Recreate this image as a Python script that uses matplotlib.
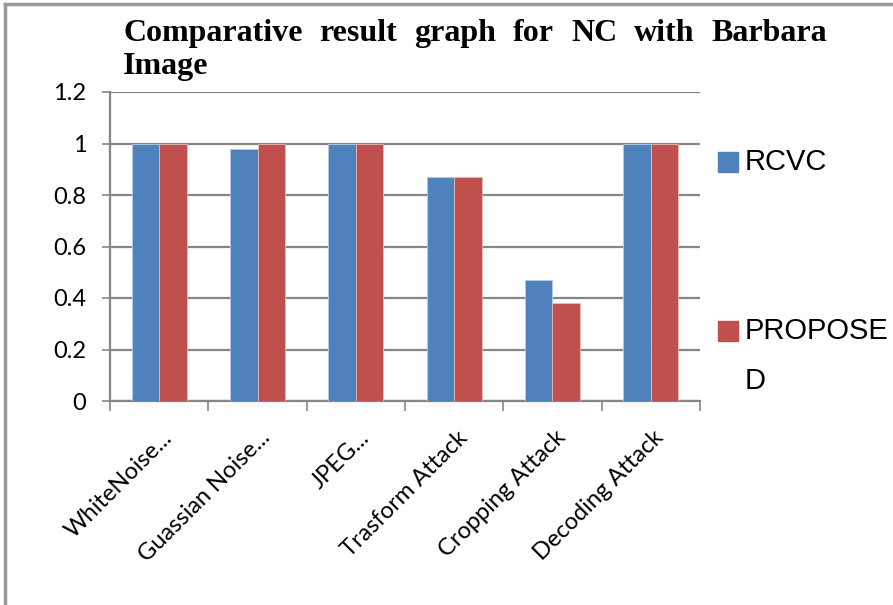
import numpy as np
import matplotlib.pyplot as plt
from matplotlib.lines import Line2D

attacks = ["WhiteNoise...", "Guassian Noise...", "JPEG...", "Trasform Attack",
           "Cropping Attack", "Decoding Attack"]
rcvc = [1.0, 0.98, 1.0, 0.87, 0.47, 1.0]
proposed = [1.0, 1.0, 1.0, 0.87, 0.38, 1.0]
yticks = [0, 0.2, 0.4, 0.6, 0.8, 1.0, 1.2]
ytick_labels = ["0", "0.2", "0.4", "0.6", "0.8", "1", "1.2"]

blue = "#4f81bd"
red = "#c0504d"
grid = "#868686"
sans = ["Liberation Sans", "DejaVu Sans"]
lato = ["Lato", "DejaVu Sans"]

fig = plt.figure(figsize=(8.93, 6.05), dpi=100)
ax = fig.add_axes([110 / 893, 1 - 401 / 605, 590 / 893, 309 / 605])

x = np.arange(len(attacks))
w = 0.28
ax.bar(x - w / 2, rcvc, w, color=blue, edgecolor="#b9cde5", linewidth=0.6, zorder=3)
ax.bar(x + w / 2, proposed, w, color=red, edgecolor="#e6b9b8", linewidth=0.6, zorder=3)

ax.set_xlim(-0.5, len(attacks) - 0.5)
ax.set_ylim(0, 1.2)
ax.set_yticks(yticks)
ax.set_yticklabels(ytick_labels, fontfamily=lato, fontsize=17)
ax.yaxis.grid(True, color=grid, linewidth=1.6, zorder=0)
ax.tick_params(axis="y", length=6, width=1.2, color=grid, pad=11)

# category boundaries get the tick marks, labels sit in between
ax.set_xticks(np.arange(-0.5, len(attacks)), minor=True)
ax.set_xticks(x)
ax.set_xticklabels([])
ax.tick_params(axis="x", which="major", length=0)
ax.tick_params(axis="x", which="minor", length=7, width=1.2, color=grid)
for i, name in enumerate(attacks):
    ax.annotate(name, xy=(i, 0), xycoords=("data", "axes fraction"),
                xytext=(7, -24), textcoords="offset points",
                rotation=45, rotation_mode="anchor", ha="right", va="center",
                fontsize=17, fontfamily=lato)

for s in ["top", "right"]:
    ax.spines[s].set_visible(False)
for s in ["left", "bottom"]:
    ax.spines[s].set_color(grid)
    ax.spines[s].set_linewidth(1.6)

# legend drawn by hand to keep the wrapped label
fig.patches.append(plt.Rectangle((718 / 893, 1 - 172 / 605), 20 / 893, 20 / 605,
                                 transform=fig.transFigure, color=blue))
fig.patches.append(plt.Rectangle((718 / 893, 1 - 341 / 605), 20 / 893, 20 / 605,
                                 transform=fig.transFigure, color=red))
fig.text(745 / 893, 1 - 162 / 605, "RCVC", fontsize=21, fontfamily=sans, va="center")
fig.text(745 / 893, 1 - 331 / 605, "PROPOSE", fontsize=21, fontfamily=sans, va="center")
fig.text(745 / 893, 1 - 381 / 605, "D", fontsize=21, fontfamily=sans, va="center")

# justified title, first line spread over a fixed width
title_words = ["Comparative", "result", "graph", "for", "NC", "with", "Barbara"]
tprops = dict(fontsize=23, fontfamily="Liberation Serif", fontweight="bold")
left, right = 123, 827
renderer = fig.canvas.get_renderer()
texts = [fig.text(0, 0, wd, **tprops) for wd in title_words]
widths = [t.get_window_extent(renderer).width for t in texts]
gap = (right - left - sum(widths)) / (len(title_words) - 1)
pos = left
for t, wd in zip(texts, widths):
    t.set_position((pos / 893, 1 - 41 / 605))
    pos += wd + gap
fig.text(left / 893, 1 - 74 / 605, "Image", **tprops)

# outer frame along the top and left edges
fig.add_artist(Line2D([5 / 893, 1], [1 - 4 / 605, 1 - 4 / 605], color="#9a9a9a", linewidth=2.5))
fig.add_artist(Line2D([5 / 893, 5 / 893], [0, 1 - 4 / 605], color="#9a9a9a", linewidth=2.5))

fig.savefig("out.png", dpi=100)
